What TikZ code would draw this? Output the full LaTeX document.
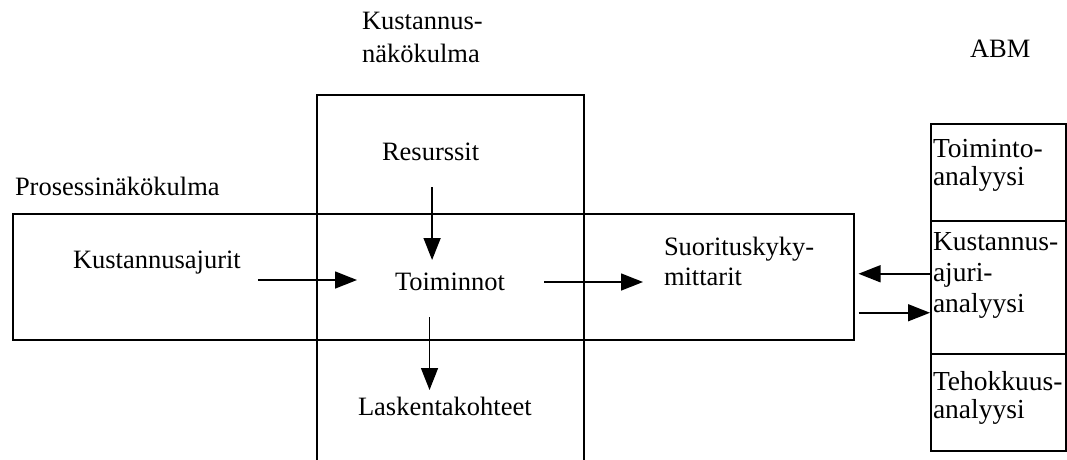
\documentclass[tikz,border=0pt]{standalone}
\usepackage{fontspec}
\setmainfont{Liberation Serif}
\usetikzlibrary{arrows.meta,calc}
\begin{document}
\begin{tikzpicture}[x=1pt,y=-1pt,
  box/.style={draw, line width=1.5pt, inner sep=0pt},
  lbl/.style={font=\fontsize{26.5}{31}\selectfont, inner sep=0pt, outer sep=0pt, align=left},
  abmtext/.style={lbl, anchor=north west},
  arr/.style={line width=1.5pt, -{Triangle[length=22pt,width=17pt]}}]
\useasboundingbox (0,0) rectangle (1067,459);
% cost view (vertical, open at the bottom)
\coordinate (vbl) at (317,462);
\coordinate (vtl) at (317,95);
\coordinate (vtr) at (584,95);
\coordinate (vbr) at (584,462);
\draw[line width=1.5pt] (vbl) -- (vtl) -- (vtr) -- (vbr);
% process view (horizontal)
\node[box, anchor=north west, minimum width=841pt, minimum height=126pt] (proc) at (12,213) {};
% ABM boxes
\node[box, anchor=north west, minimum width=135pt, minimum height=97pt] (abm1) at (930,123) {};
\node[box, anchor=north west, minimum width=135pt, minimum height=133pt] (abm2) at (930,220) {};
\node[box, anchor=north west, minimum width=135pt, minimum height=97pt] (abm3) at (930,353) {};
% labels
\node[lbl, anchor=north west, font=\fontsize{26.5}{33}\selectfont] (kn) at (362,12.5) {Kustannus-\\näkökulma};
\node[lbl, anchor=base west] (abm) at (970,57) {ABM};
\node[lbl, anchor=base west] (pn) at (15,195) {Prosessinäkökulma};
\node[lbl, anchor=base west] (kust) at (73,268) {Kustannusajurit};
\node[lbl, anchor=base west] (res) at (382,160) {Resurssit};
\node[lbl, anchor=base west] (toim) at (395,290) {Toiminnot};
\node[lbl, anchor=base west] (lask) at (358,415) {Laskentakohteet};
\node[lbl, anchor=north west, font=\fontsize{26.5}{30}\selectfont] (suor) at (664,237) {Suorituskyky-\\mittarit};
\node[abmtext, font=\fontsize{27.5}{28}\selectfont] (t1) at (933,139) {Toiminto-\\analyysi};
\node[abmtext, font=\fontsize{27.5}{31}\selectfont] (t2) at (933,232) {Kustannus-\\ajuri-\\analyysi};
\node[abmtext, font=\fontsize{27.5}{28}\selectfont] (t3) at (933,371) {Tehokkuus-\\analyysi};
% connectors
\draw[arr] ([shift={(17,12)}]kust.base east) coordinate (a1s) -- ($(a1s -| toim.base west)+(-38,0)$);
\draw[arr] ([shift={(1.5,27)}]res.base) coordinate (a2s) -- ($(a2s |- toim.base)+(0,-30)$);
\draw[arr] ([shift={(-20.5,27)}]toim.base) coordinate (a3s) -- ($(a3s |- lask.base)+(0,-25)$);
\draw[arr] ([shift={(39,-8)}]toim.base east) coordinate (a4s) -- ($(a4s -| suor.west)+(-21,0)$);
\draw[arr] ([shift={(0,-13.5)}]abm2.west) coordinate (a5s) -- ($(a5s -| proc.east)+(4,0)$);
\draw[arr] ($(proc.east)+(4,36)$) coordinate (a6s) -- (a6s -| abm2.west);
\end{tikzpicture}
\end{document}
